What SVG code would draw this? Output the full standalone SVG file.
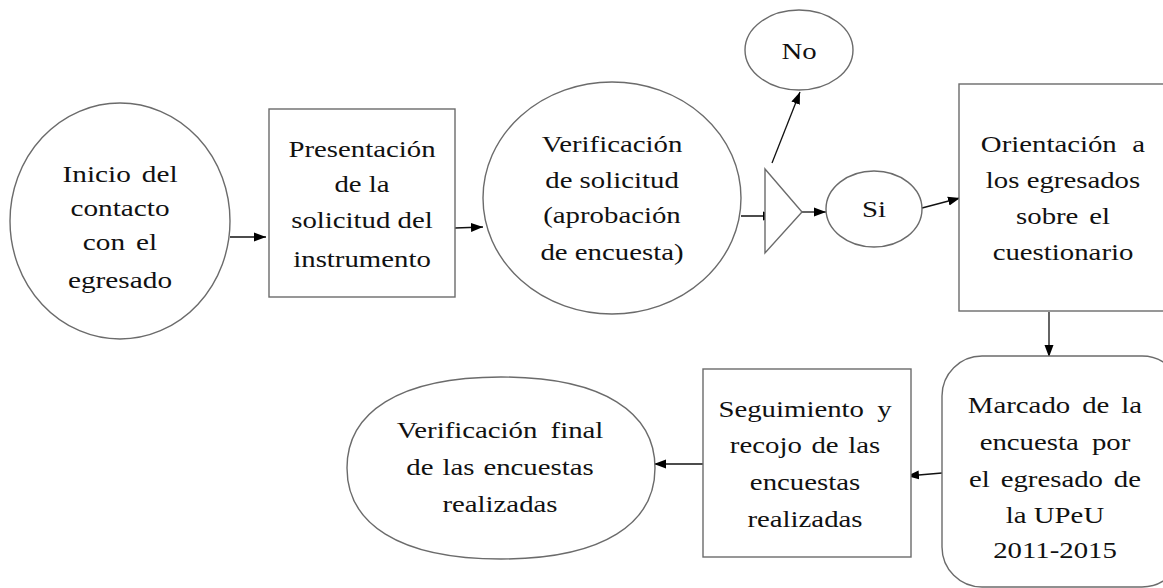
<svg xmlns="http://www.w3.org/2000/svg" width="1163" height="588" viewBox="0 0 1163 588">
<style>
.s{fill:#fff;stroke:#6b6b6b;stroke-width:1.4}
.t{font-family:"Liberation Serif","Times New Roman",serif;font-size:24px;fill:#111;text-anchor:middle}
.c{stroke:#111;stroke-width:1.3;fill:none;marker-end:url(#ah)}
</style>
<defs>
<marker id="ah" markerUnits="userSpaceOnUse" markerWidth="13" markerHeight="10" refX="12" refY="5" orient="auto">
<path d="M0,0.5 L12,5 L0,9.5 z" fill="#000"/>
</marker>
</defs>
<rect width="1163" height="588" fill="#fff"/>
<g id="connectors">
<line class="c" x1="230" y1="237" x2="266" y2="237"/>
<line class="c" x1="455" y1="228" x2="483" y2="227"/>
<line class="c" x1="741" y1="216" x2="775" y2="216"/>
<line class="c" x1="802" y1="212" x2="826" y2="212"/>
<line class="c" x1="772" y1="163" x2="800" y2="92"/>
<line class="c" x1="922" y1="208" x2="960" y2="198"/>
<line class="c" x1="1049" y1="312" x2="1049" y2="357"/>
<line class="c" x1="942" y1="473" x2="907" y2="476"/>
<line class="c" x1="703" y1="464" x2="654" y2="464"/>
</g>
<g id="n1">
<ellipse class="s" cx="120" cy="221" rx="110" ry="118"/>
<text class="t" transform="translate(120,0) scale(1.22,1)" word-spacing="3"><tspan x="0" y="182">Inicio del</tspan><tspan x="0" y="216">contacto</tspan><tspan x="0" y="250">con el</tspan><tspan x="0" y="288">egresado</tspan></text>
</g>
<g id="n2">
<rect class="s" x="269" y="109" width="186" height="188"/>
<text class="t" transform="translate(362,0) scale(1.2,1)"><tspan x="0" y="157">Presentación</tspan><tspan x="0" y="192">de la</tspan><tspan x="0" y="228">solicitud del</tspan><tspan x="0" y="267">instrumento</tspan></text>
</g>
<g id="n3">
<ellipse class="s" cx="612" cy="198" rx="129" ry="116"/>
<text class="t" transform="translate(612,0) scale(1.2,1)"><tspan x="0" y="152">Verificación</tspan><tspan x="0" y="188">de solicitud</tspan><tspan x="0" y="223">(aprobación</tspan><tspan x="0" y="260">de encuesta)</tspan></text>
</g>
<g id="decision">
<polygon class="s" points="765,169 802,212 765,253"/>
</g>
<g id="no">
<ellipse class="s" cx="799" cy="50" rx="54" ry="40"/>
<text class="t" transform="translate(799,0) scale(1.2,1)"><tspan x="0" y="59">No</tspan></text>
</g>
<g id="si">
<ellipse class="s" cx="874" cy="209" rx="48" ry="38"/>
<text class="t" transform="translate(874,0) scale(1.2,1)"><tspan x="0" y="217">Si</tspan></text>
</g>
<g id="n4">
<rect class="s" x="959" y="84" width="220" height="227"/>
<text class="t" transform="translate(1063,0) scale(1.2,1)"><tspan x="0" y="152" word-spacing="7">Orientación a</tspan><tspan x="0" y="188">los egresados</tspan><tspan x="0" y="224" word-spacing="3">sobre el</tspan><tspan x="0" y="260">cuestionario</tspan></text>
</g>
<g id="n5">
<rect class="s" x="942" y="356" width="240" height="231" rx="40" ry="40"/>
<text class="t" transform="translate(1055,0) scale(1.2,1)"><tspan x="0" y="413" word-spacing="4">Marcado de la</tspan><tspan x="0" y="450" word-spacing="5">encuesta por</tspan><tspan x="0" y="487" word-spacing="3">el egresado de</tspan><tspan x="0" y="523">la UPeU</tspan><tspan x="0" y="558">2011-2015</tspan></text>
</g>
<g id="n6">
<rect class="s" x="703" y="369" width="208" height="188"/>
<text class="t" transform="translate(805,0) scale(1.2,1)"><tspan x="0" y="417" word-spacing="5">Seguimiento y</tspan><tspan x="0" y="453" word-spacing="2">recojo de las</tspan><tspan x="0" y="490">encuestas</tspan><tspan x="0" y="527">realizadas</tspan></text>
</g>
<g id="n7">
<path class="s" d="M347,468 C347,413 398,377 501,377 C604,377 655,413 655,468 C655,523 604,559 501,559 C398,559 347,523 347,468 Z"/>
<text class="t" transform="translate(500,0) scale(1.2,1)"><tspan x="0" y="438" word-spacing="5">Verificación final</tspan><tspan x="0" y="475" word-spacing="1.5">de las encuestas</tspan><tspan x="0" y="512">realizadas</tspan></text>
</g>
</svg>
